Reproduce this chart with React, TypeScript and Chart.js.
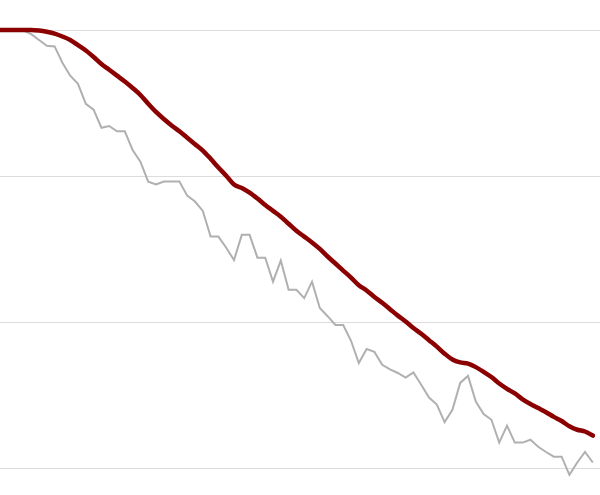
import { useEffect, useRef } from 'react';
import { Chart, registerables } from 'chart.js';

Chart.register(...registerables);

// Index of each observation along the x axis (0..76)
const steps = Array.from({ length: 77 }, (_, i) => i);

// Smooth trend line (dark red)
const trendValues = [
  100, 100, 100, 100, 100, 99.9, 99.7, 99.4, 98.9, 98.3,
  97.4, 96.5, 95.4, 94.2, 93.2, 92.2, 91.2, 90.1, 88.9, 87.4,
  86.0, 84.8, 83.7, 82.7, 81.6, 80.5, 79.4, 78.0, 76.5, 75.1,
  73.6, 73.0, 72.2, 71.2, 70.1, 69.1, 68.1, 66.9, 65.7, 64.7,
  63.7, 62.6, 61.3, 60.1, 58.9, 57.7, 56.4, 55.5, 54.4, 53.4,
  52.3, 51.2, 50.2, 49.1, 48.1, 47.0, 45.9, 44.7, 43.7, 43.2,
  43.0, 42.4, 41.6, 40.7, 39.6, 38.7, 37.9, 36.9, 36.1, 35.4,
  34.7, 33.9, 33.2, 32.3, 31.7, 31.4, 30.7
];

// Raw observed line (gray)
const observedValues = [
  100, 100, 100, 99.9, 99.3, 98.3, 97.3, 97.2, 94.4, 92.2,
  90.8, 87.4, 86.4, 83.3, 83.6, 82.7, 82.7, 79.5, 77.5, 74.1,
  73.6, 74.1, 74.1, 74.1, 71.7, 70.7, 69.1, 64.7, 64.7, 62.8,
  60.7, 65.0, 65.0, 61.1, 61.1, 57.0, 60.6, 55.6, 55.6, 54.2,
  57.0, 52.5, 51.1, 49.6, 49.6, 46.9, 43.1, 45.5, 45.0, 42.8,
  42.0, 41.4, 40.6, 41.5, 39.4, 37.2, 36.0, 33.0, 35.1, 39.7,
  40.9, 36.5, 34.4, 33.4, 29.5, 32.4, 29.5, 29.5, 30.0, 28.8,
  27.9, 27.1, 27.1, 24.0, 26.1, 27.9, 26.1
];

// Horizontal gridlines
const gridValues = [25, 50, 75, 100];

export default function App() {
  const canvasRef = useRef<HTMLCanvasElement>(null);

  useEffect(() => {
    if (!canvasRef.current) return;

    const chart = new Chart(canvasRef.current, {
      type: 'line',
      data: {
        datasets: [
          {
            label: 'Trend',
            data: steps.map((x, i) => ({ x, y: trendValues[i] })),
            borderColor: '#8b0000',
            borderWidth: 4.5,
            pointRadius: 0,
            cubicInterpolationMode: 'monotone',
            borderCapStyle: 'round',
            borderJoinStyle: 'round'
          },
          {
            label: 'Observed',
            data: steps.map((x, i) => ({ x, y: observedValues[i] })),
            borderColor: '#b0b0b0',
            borderWidth: 2,
            pointRadius: 0,
            tension: 0
          }
        ]
      },
      options: {
        responsive: true,
        maintainAspectRatio: false,
        animation: false,
        layout: { padding: 0 },
        plugins: {
          legend: { display: false },
          tooltip: { enabled: false }
        },
        scales: {
          x: {
            type: 'linear',
            display: false,
            min: 0,
            max: 76.92
          },
          y: {
            type: 'linear',
            min: 20.55,
            max: 105.13,
            afterBuildTicks: (axis) => {
              axis.ticks = gridValues.map(value => ({ value }));
            },
            ticks: { display: false },
            border: { display: false },
            grid: {
              color: '#dcdcdc',
              lineWidth: 1,
              drawTicks: false
            }
          }
        }
      }
    });

    return () => {
      chart.destroy();
    };
  }, []);

  return (
    <div style={{ position: 'fixed', left: 0, top: 0, width: 600, height: 495, background: '#fff' }}>
      <canvas ref={canvasRef}></canvas>
    </div>
  );
}
